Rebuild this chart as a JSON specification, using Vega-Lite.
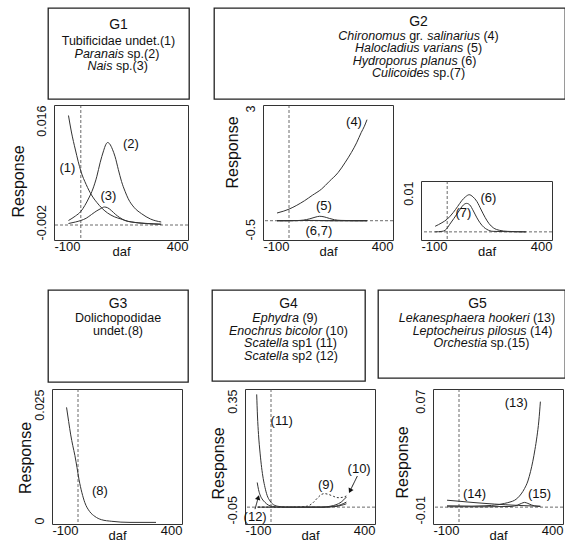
{
"$schema":"https://vega.github.io/schema/vega-lite/v6.json",
"background":"white",
"padding":{"left":0,"top":7,"right":0,"bottom":0},
"config":{
 "font":"Liberation Sans",
 "view":{"stroke":null},
 "axis":{"grid":false,"domain":false,"ticks":false,"labelFont":"Liberation Sans","labelColor":"#111","titleFont":"Liberation Sans","titleFontWeight":"normal","titleColor":"#111"},
 "text":{"font":"Liberation Sans","fontSize":13,"color":"#111","baseline":"middle"},
 "line":{"color":"#333","strokeWidth":1,"interpolate":"monotone"},
 "rule":{"color":"#444","strokeWidth":0.8,"strokeDash":[3,2]}
},
"spacing":0,
"bounds":"full",
"datasets":{
 "b1":[{"line":0,"it":"","rom":"G1"},{"line":1,"it":"","rom":"Tubificidae undet.(1)"},{"line":2,"it":"Paranais","rom":"sp.(2)"},{"line":3,"it":"Nais","rom":"sp.(3)"}],
 "b2":[{"line":0,"it":"","rom":"G2"},{"line":1,"it":"Chironomus","rom":"gr.","it2":"salinarius","rom2":"(4)"},{"line":2,"it":"Halocladius varians","rom":"(5)"},{"line":3,"it":"Hydroporus planus","rom":"(6)"},{"line":4,"it":"Culicoides","rom":"sp.(7)"}],
 "b3":[{"line":0,"it":"","rom":"G3"},{"line":1,"it":"","rom":"Dolichopodidae"},{"line":2,"it":"","rom":"undet.(8)"}],
 "b4":[{"line":0,"it":"","rom":"G4"},{"line":1,"it":"Ephydra","rom":"(9)"},{"line":2,"it":"Enochrus bicolor","rom":"(10)"},{"line":3,"it":"Scatella","rom":"sp1 (11)"},{"line":4,"it":"Scatella","rom":"sp2 (12)"}],
 "b5":[{"line":0,"it":"","rom":"G5"},{"line":1,"it":"Lekanesphaera hookeri","rom":"(13)"},{"line":2,"it":"Leptocheirus pilosus","rom":"(14)"},{"line":3,"it":"Orchestia","rom":"sp.(15)"}],
 "g1":[
  {"sp":"1","daf":-46,"r":0.0146},{"sp":"1","daf":-35,"r":0.0124},{"sp":"1","daf":-20,"r":0.0100},{"sp":"1","daf":0,"r":0.0072},{"sp":"1","daf":20,"r":0.0054},{"sp":"1","daf":40,"r":0.0040},{"sp":"1","daf":60,"r":0.0030},{"sp":"1","daf":80,"r":0.0022},{"sp":"1","daf":100,"r":0.0016},{"sp":"1","daf":125,"r":0.0011},{"sp":"1","daf":150,"r":0.0008},{"sp":"1","daf":175,"r":0.0005},{"sp":"1","daf":200,"r":0.00035},{"sp":"1","daf":250,"r":0.0002},{"sp":"1","daf":300,"r":0.0001},
  {"sp":"2","daf":-46,"r":0.0006},{"sp":"2","daf":-20,"r":0.0012},{"sp":"2","daf":0,"r":0.0018},{"sp":"2","daf":15,"r":0.0026},{"sp":"2","daf":30,"r":0.0036},{"sp":"2","daf":45,"r":0.0048},{"sp":"2","daf":60,"r":0.0065},{"sp":"2","daf":72,"r":0.0083},{"sp":"2","daf":85,"r":0.0099},{"sp":"2","daf":93,"r":0.0107},{"sp":"2","daf":100,"r":0.0110},{"sp":"2","daf":108,"r":0.0108},{"sp":"2","daf":118,"r":0.0101},{"sp":"2","daf":128,"r":0.0091},{"sp":"2","daf":140,"r":0.0074},{"sp":"2","daf":152,"r":0.0058},{"sp":"2","daf":165,"r":0.0045},{"sp":"2","daf":177,"r":0.0035},{"sp":"2","daf":200,"r":0.0023},{"sp":"2","daf":227,"r":0.0015},{"sp":"2","daf":260,"r":0.0008},{"sp":"2","daf":300,"r":0.0004},
  {"sp":"3","daf":-46,"r":0.0002},{"sp":"3","daf":-20,"r":0.0004},{"sp":"3","daf":0,"r":0.0006},{"sp":"3","daf":20,"r":0.0009},{"sp":"3","daf":40,"r":0.0014},{"sp":"3","daf":60,"r":0.0019},{"sp":"3","daf":75,"r":0.0022},{"sp":"3","daf":88,"r":0.0024},{"sp":"3","daf":100,"r":0.0023},{"sp":"3","daf":115,"r":0.0019},{"sp":"3","daf":130,"r":0.0014},{"sp":"3","daf":145,"r":0.0010},{"sp":"3","daf":165,"r":0.0006},{"sp":"3","daf":190,"r":0.0004},{"sp":"3","daf":240,"r":0.0002},{"sp":"3","daf":300,"r":0.0001}
 ],
 "l1":[{"t":"(1)","daf":-50,"r":0.0076},{"t":"(2)","daf":187,"r":0.0108},{"t":"(3)","daf":103,"r":0.0039}],
 "g2":[
  {"sp":"4","daf":-46,"r":0.20},{"sp":"4","daf":-20,"r":0.25},{"sp":"4","daf":0,"r":0.30},{"sp":"4","daf":30,"r":0.40},{"sp":"4","daf":60,"r":0.52},{"sp":"4","daf":90,"r":0.66},{"sp":"4","daf":125,"r":0.82},{"sp":"4","daf":155,"r":1.02},{"sp":"4","daf":189,"r":1.25},{"sp":"4","daf":215,"r":1.50},{"sp":"4","daf":240,"r":1.77},{"sp":"4","daf":260,"r":2.02},{"sp":"4","daf":278,"r":2.29},{"sp":"4","daf":290,"r":2.45},{"sp":"4","daf":300,"r":2.62},
  {"sp":"5","daf":-46,"r":0},{"sp":"5","daf":0,"r":0.001},{"sp":"5","daf":30,"r":0.004},{"sp":"5","daf":55,"r":0.015},{"sp":"5","daf":80,"r":0.05},{"sp":"5","daf":100,"r":0.09},{"sp":"5","daf":118,"r":0.115},{"sp":"5","daf":135,"r":0.10},{"sp":"5","daf":155,"r":0.06},{"sp":"5","daf":175,"r":0.025},{"sp":"5","daf":200,"r":0.008},{"sp":"5","daf":250,"r":0.001},{"sp":"5","daf":300,"r":0},
  {"sp":"6","daf":-46,"r":0.0011},{"sp":"6","daf":-20,"r":0.0018},{"sp":"6","daf":0,"r":0.0025},{"sp":"6","daf":23,"r":0.0038},{"sp":"6","daf":40,"r":0.0050},{"sp":"6","daf":55,"r":0.0061},{"sp":"6","daf":70,"r":0.0069},{"sp":"6","daf":84,"r":0.0073},{"sp":"6","daf":98,"r":0.0069},{"sp":"6","daf":113,"r":0.0060},{"sp":"6","daf":130,"r":0.0043},{"sp":"6","daf":145,"r":0.0028},{"sp":"6","daf":160,"r":0.0016},{"sp":"6","daf":176,"r":0.0008},{"sp":"6","daf":200,"r":0.0003},{"sp":"6","daf":230,"r":0.0001},{"sp":"6","daf":300,"r":0},
  {"sp":"7","daf":-46,"r":0},{"sp":"7","daf":-20,"r":0.0001},{"sp":"7","daf":-8,"r":0.0003},{"sp":"7","daf":10,"r":0.0015},{"sp":"7","daf":25,"r":0.0026},{"sp":"7","daf":37,"r":0.0035},{"sp":"7","daf":50,"r":0.0045},{"sp":"7","daf":62,"r":0.0053},{"sp":"7","daf":74,"r":0.0056},{"sp":"7","daf":86,"r":0.0053},{"sp":"7","daf":100,"r":0.0041},{"sp":"7","daf":112,"r":0.0029},{"sp":"7","daf":125,"r":0.0018},{"sp":"7","daf":140,"r":0.0009},{"sp":"7","daf":151,"r":0.0005},{"sp":"7","daf":175,"r":0.0001},{"sp":"7","daf":300,"r":0}
 ],
 "l2a":[{"t":"(4)","daf":250,"r":2.55},{"t":"(5)","daf":134,"r":0.39},{"t":"(6,7)","daf":115,"r":-0.26}],
 "l2b":[{"t":"(6)","daf":157,"r":0.0067},{"t":"(7)","daf":62,"r":0.0038}],
 "g3":[
  {"sp":"8","daf":-44,"r":0.0216},{"sp":"8","daf":-36,"r":0.0190},{"sp":"8","daf":-28,"r":0.0165},{"sp":"8","daf":-20,"r":0.0145},{"sp":"8","daf":-12,"r":0.0127},{"sp":"8","daf":-4,"r":0.0105},{"sp":"8","daf":4,"r":0.0082},{"sp":"8","daf":15,"r":0.0058},{"sp":"8","daf":26,"r":0.0040},{"sp":"8","daf":45,"r":0.0023},{"sp":"8","daf":65,"r":0.0014},{"sp":"8","daf":90,"r":0.0008},{"sp":"8","daf":130,"r":0.0005},{"sp":"8","daf":200,"r":0.0003},{"sp":"8","daf":300,"r":0.0003}
 ],
 "l3":[{"t":"(8)","daf":84,"r":0.0062}],
 "g4":[
  {"sp":"11","daf":-55,"r":0.334},{"sp":"11","daf":-52,"r":0.27},{"sp":"11","daf":-48,"r":0.215},{"sp":"11","daf":-42,"r":0.16},{"sp":"11","daf":-36,"r":0.117},{"sp":"11","daf":-30,"r":0.085},{"sp":"11","daf":-23,"r":0.058},{"sp":"11","daf":-15,"r":0.035},{"sp":"11","daf":-4,"r":0.0185},{"sp":"11","daf":10,"r":0.007},{"sp":"11","daf":30,"r":0.002},{"sp":"11","daf":60,"r":0},{"sp":"11","daf":200,"r":0},{"sp":"11","daf":250,"r":0.002},{"sp":"11","daf":290,"r":0.01},
  {"sp":"12","daf":-53,"r":0.073},{"sp":"12","daf":-48,"r":0.052},{"sp":"12","daf":-42,"r":0.036},{"sp":"12","daf":-34,"r":0.024},{"sp":"12","daf":-23,"r":0.014},{"sp":"12","daf":-10,"r":0.006},{"sp":"12","daf":6,"r":0.002},{"sp":"12","daf":30,"r":0},{"sp":"12","daf":200,"r":0},{"sp":"12","daf":250,"r":0.003},{"sp":"12","daf":290,"r":0.015},
  {"sp":"10","daf":-50,"r":0},{"sp":"10","daf":200,"r":0},{"sp":"10","daf":230,"r":0.003},{"sp":"10","daf":250,"r":0.007},{"sp":"10","daf":270,"r":0.015},{"sp":"10","daf":290,"r":0.03},
  {"sp":"9","daf":-50,"r":0},{"sp":"9","daf":100,"r":0},{"sp":"9","daf":140,"r":0.003},{"sp":"9","daf":160,"r":0.012},{"sp":"9","daf":180,"r":0.028},{"sp":"9","daf":195,"r":0.038},{"sp":"9","daf":205,"r":0.040},{"sp":"9","daf":220,"r":0.038},{"sp":"9","daf":240,"r":0.032},{"sp":"9","daf":258,"r":0.028},{"sp":"9","daf":275,"r":0.029},{"sp":"9","daf":290,"r":0.033}
 ],
 "l4":[{"t":"(11)","daf":41,"r":0.256},{"t":"(9)","daf":211,"r":0.067},{"t":"(10)","daf":339,"r":0.112},{"t":"(12)","daf":-61,"r":-0.028}],
 "a4":[{"id":"10","daf":332,"r":0.092,"daf2":304,"r2":0.048},{"id":"12","daf":-61.5,"r":-0.006,"daf2":-49,"r2":0.0285}],
 "g5":[
  {"sp":"13","daf":-46,"r":0.0008},{"sp":"13","daf":50,"r":0.0006},{"sp":"13","daf":100,"r":0.0008},{"sp":"13","daf":150,"r":0.0014},{"sp":"13","daf":175,"r":0.0022},{"sp":"13","daf":200,"r":0.0032},{"sp":"13","daf":213,"r":0.0040},{"sp":"13","daf":226,"r":0.0055},{"sp":"13","daf":239,"r":0.0078},{"sp":"13","daf":252,"r":0.011},{"sp":"13","daf":265,"r":0.0155},{"sp":"13","daf":275,"r":0.021},{"sp":"13","daf":284,"r":0.0272},{"sp":"13","daf":292,"r":0.034},{"sp":"13","daf":300,"r":0.042},{"sp":"13","daf":307,"r":0.051},{"sp":"13","daf":313,"r":0.0625},
  {"sp":"14","daf":-46,"r":0.0041},{"sp":"14","daf":0,"r":0.0035},{"sp":"14","daf":50,"r":0.0028},{"sp":"14","daf":100,"r":0.0022},{"sp":"14","daf":137,"r":0.0018},{"sp":"14","daf":180,"r":0.0014},{"sp":"14","daf":230,"r":0.0010},{"sp":"14","daf":280,"r":0.0007},{"sp":"14","daf":313,"r":0.0006},
  {"sp":"15","daf":-46,"r":0.0002},{"sp":"15","daf":100,"r":0.0002},{"sp":"15","daf":200,"r":0.0004},{"sp":"15","daf":225,"r":0.0012},{"sp":"15","daf":240,"r":0.0022},{"sp":"15","daf":252,"r":0.0028},{"sp":"15","daf":265,"r":0.0022},{"sp":"15","daf":280,"r":0.0012},{"sp":"15","daf":300,"r":0.0005},{"sp":"15","daf":313,"r":0.0003}
 ],
 "l5":[{"t":"(13)","daf":220,"r":0.062},{"t":"(14)","daf":60,"r":0.0075},{"t":"(15)","daf":310,"r":0.0075}]
},
"vconcat":[
 {"hconcat":[
   {"width":48,"height":91,"data":{"values":[]},"mark":"point","encoding":{}},
   {"width":141,"height":91,"view":{"stroke":"#222","strokeWidth":1.3},"data":{"name":"b1"},
    "encoding":{"y":{"field":"line","type":"quantitative","scale":{"domain":[-1.664,5.616],"reverse":true,"nice":false,"zero":false},"axis":null}},
    "layer":[
     {"transform":[{"filter":"datum.line == 0"}],"mark":{"type":"text","fontSize":14,"dy":-4},"encoding":{"text":{"field":"rom"}}},
     {"transform":[{"filter":"datum.line > 0"}],"mark":{"type":"text","fontSize":12.5,"fontStyle":"italic","align":"right","dx":{"expr":"(length(datum.it)*5.74 - (datum.rom ? 3.47 : 0) - length(datum.rom)*5.28)/2"}},"encoding":{"text":{"field":"it"}}},
     {"transform":[{"filter":"datum.line > 0"}],"mark":{"type":"text","fontSize":12.5,"align":{"expr":"datum.it ? 'left' : 'center'"},"dx":{"expr":"datum.it ? (length(datum.it)*5.74 + 3.47 - length(datum.rom)*5.28)/2 : 0"}},"encoding":{"text":{"field":"rom"}}}
    ]},
   {"width":25,"height":91,"data":{"values":[]},"mark":"point","encoding":{}},
   {"width":351,"height":91,"view":{"stroke":"#222","strokeWidth":1.3},"data":{"name":"b2"},
    "encoding":{"y":{"field":"line","type":"quantitative","scale":{"domain":[-1.219,6.032],"reverse":true,"nice":false,"zero":false},"axis":null}},
    "layer":[
     {"transform":[{"filter":"datum.line == 0"}],"mark":{"type":"text","fontSize":14,"dx":29,"dy":-1},"encoding":{"text":{"field":"rom"}}},
     {"transform":[{"filter":"datum.line == 1"}],"mark":{"type":"text","fontSize":12.5,"fontStyle":"italic","align":"right","dx":16.2},"encoding":{"text":{"field":"it"}}},
     {"transform":[{"filter":"datum.line == 1"}],"mark":{"type":"text","fontSize":12.5,"align":"left","dx":19.65},"encoding":{"text":{"field":"rom"}}},
     {"transform":[{"filter":"datum.line == 1"}],"mark":{"type":"text","fontSize":12.5,"fontStyle":"italic","align":"left","dx":37.7},"encoding":{"text":{"field":"it2"}}},
     {"transform":[{"filter":"datum.line == 1"}],"mark":{"type":"text","fontSize":12.5,"align":"left","dx":93.95},"encoding":{"text":{"field":"rom2"}}},
     {"transform":[{"filter":"datum.line > 1"}],"mark":{"type":"text","fontSize":12.5,"fontStyle":"italic","align":"right","dx":{"expr":"(length(datum.it)*5.74 - (datum.rom ? 3.47 : 0) - length(datum.rom)*5.28)/2 + 29"}},"encoding":{"text":{"field":"it"}}},
     {"transform":[{"filter":"datum.line > 1"}],"mark":{"type":"text","fontSize":12.5,"align":{"expr":"datum.it ? 'left' : 'center'"},"dx":{"expr":"datum.it ? (length(datum.it)*5.74 + 3.47 - length(datum.rom)*5.28)/2 + 29 : 29"}},"encoding":{"text":{"field":"rom"}}}
    ]}
  ],"spacing":0,"bounds":"flush"},
 {"width":1,"height":4,"data":{"values":[]},"mark":"point","encoding":{}},
 {"hconcat":[
   {"width":54,"height":135,"data":{"values":[]},"mark":"point","encoding":{}},
   {"width":134,"height":135,"view":{"stroke":"#333"},
    "layer":[
     {"data":{"values":[{}]},"mark":"rule","encoding":{"x":{"datum":0,"type":"quantitative","scale":{"domain":[-100,400],"nice":false,"zero":false}}}},
     {"data":{"values":[{}]},"mark":"rule","encoding":{"y":{"datum":0,"type":"quantitative","scale":{"domain":[-0.002,0.016],"nice":false,"zero":false}}}},
     {"data":{"name":"g1"},"mark":"line","encoding":{
       "x":{"field":"daf","type":"quantitative","scale":{"domain":[-100,400],"nice":false,"zero":false},"axis":{"values":[-100,400],"labelExpr":"datum.value < 0 ? '-' + format(-datum.value, '~g') : format(datum.value, '~g')","labelFlush":true,"labelPadding":0,"labelFontSize":13,"title":"daf","titleFontSize":13,"titleY":15,"titleBaseline":"alphabetic"}},
       "y":{"field":"r","type":"quantitative","scale":{"domain":[-0.002,0.016],"nice":false,"zero":false},"axis":{"values":[-0.002,0.016],"labelExpr":"datum.value < 0 ? '-' + format(-datum.value, '~g') : format(datum.value, '~g')","labelFlush":false,"labelAngle":270,"labelAlign":{"condition":{"test":"datum.value <= 0","value":"left"},"value":"right"},"labelBaseline":"bottom","labelPadding":6,"labelFontSize":12.5,"title":"Response","titleFontSize":16,"titleAngle":270,"titleAlign":"center","titleBaseline":"middle","titleX":-36,"titleY":76}},
       "detail":{"field":"sp","type":"nominal"}}},
     {"data":{"name":"l1"},"mark":"text","encoding":{"x":{"field":"daf","type":"quantitative","scale":{"domain":[-100,400],"nice":false,"zero":false}},"y":{"field":"r","type":"quantitative","scale":{"domain":[-0.002,0.016],"nice":false,"zero":false}},"text":{"field":"t"}}}
    ]},
   {"width":75,"height":135,"data":{"values":[]},"mark":"point","encoding":{}},
   {"width":130,"height":135,"view":{"stroke":"#333"},
    "layer":[
     {"data":{"values":[{}]},"mark":"rule","encoding":{"x":{"datum":0,"type":"quantitative","scale":{"domain":[-100,400],"nice":false,"zero":false}}}},
     {"data":{"values":[{}]},"mark":"rule","encoding":{"y":{"datum":0,"type":"quantitative","scale":{"domain":[-0.5,3],"nice":false,"zero":false}}}},
     {"data":{"name":"g2"},"mark":"line","encoding":{
       "x":{"field":"daf","type":"quantitative","scale":{"domain":[-100,400],"nice":false,"zero":false},"axis":{"values":[-100,400],"labelExpr":"datum.value < 0 ? '-' + format(-datum.value, '~g') : format(datum.value, '~g')","labelFlush":true,"labelPadding":0,"labelFontSize":13,"title":"daf","titleFontSize":13,"titleY":15,"titleBaseline":"alphabetic"}},
       "y":{"field":"r","type":"quantitative","scale":{"domain":[-0.5,3],"nice":false,"zero":false},"axis":{"values":[-0.5,3],"labelExpr":"datum.value < 0 ? '-' + format(-datum.value, '~g') : format(datum.value, '~g')","labelFlush":false,"labelAngle":270,"labelAlign":{"condition":{"test":"datum.value <= 0","value":"left"},"value":"right"},"labelBaseline":"bottom","labelPadding":6,"labelFontSize":12.5,"title":"Response","titleFontSize":16,"titleAngle":270,"titleAlign":"center","titleBaseline":"middle","titleX":-30.5,"titleY":47}},
       "detail":{"field":"sp","type":"nominal"}}},
     {"data":{"name":"l2a"},"mark":"text","encoding":{"x":{"field":"daf","type":"quantitative","scale":{"domain":[-100,400],"nice":false,"zero":false}},"y":{"field":"r","type":"quantitative","scale":{"domain":[-0.5,3],"nice":false,"zero":false}},"text":{"field":"t"}}}
    ]},
   {"width":28,"height":135,"data":{"values":[]},"mark":"point","encoding":{}},
   {"vconcat":[
     {"width":131,"height":76,"data":{"values":[]},"mark":"point","encoding":{}},
     {"width":131,"height":59,"view":{"stroke":"#333"},
      "layer":[
       {"data":{"values":[{}]},"mark":"rule","encoding":{"x":{"datum":0,"type":"quantitative","scale":{"domain":[-100,400],"nice":false,"zero":false}}}},
       {"data":{"values":[{}]},"mark":"rule","encoding":{"y":{"datum":0,"type":"quantitative","scale":{"domain":[-0.0016,0.01],"nice":false,"zero":false}}}},
       {"data":{"name":"g2"},"transform":[{"filter":"datum.sp == '6' || datum.sp == '7'"}],"mark":"line","encoding":{
         "x":{"field":"daf","type":"quantitative","scale":{"domain":[-100,400],"nice":false,"zero":false},"axis":{"values":[-100,400],"labelExpr":"datum.value < 0 ? '-' + format(-datum.value, '~g') : format(datum.value, '~g')","labelFlush":true,"labelPadding":0,"labelFontSize":13,"title":"daf","titleFontSize":13,"titleY":15,"titleBaseline":"alphabetic"}},
         "y":{"field":"r","type":"quantitative","scale":{"domain":[-0.0016,0.01],"nice":false,"zero":false},"axis":{"values":[0.01],"labelExpr":"format(datum.value, '~g')","labelFlush":false,"labelAngle":270,"labelAlign":"right","labelBaseline":"bottom","labelPadding":6,"labelFontSize":12.5,"title":null}},
         "detail":{"field":"sp","type":"nominal"}}},
       {"data":{"name":"l2b"},"mark":"text","encoding":{"x":{"field":"daf","type":"quantitative","scale":{"domain":[-100,400],"nice":false,"zero":false}},"y":{"field":"r","type":"quantitative","scale":{"domain":[-0.0016,0.01],"nice":false,"zero":false}},"text":{"field":"t"}}}
      ]}
    ],"spacing":0,"bounds":"flush"}
  ],"spacing":0,"bounds":"flush"},
 {"width":1,"height":30,"data":{"values":[]},"mark":"point","encoding":{}},
 {"hconcat":[
   {"width":48,"height":92,"data":{"values":[]},"mark":"point","encoding":{}},
   {"width":140,"height":92,"view":{"stroke":"#222","strokeWidth":1.3},"data":{"name":"b3"},
    "encoding":{"y":{"field":"line","type":"quantitative","scale":{"domain":[-1.197,6.047],"reverse":true,"nice":false,"zero":false},"axis":null}},
    "layer":[
     {"transform":[{"filter":"datum.line == 0"}],"mark":{"type":"text","fontSize":14,"dy":-1},"encoding":{"text":{"field":"rom"}}},
     {"transform":[{"filter":"datum.line > 0"}],"mark":{"type":"text","fontSize":12.5},"encoding":{"text":{"field":"rom"}}}
    ]},
   {"width":24,"height":91,"data":{"values":[]},"mark":"point","encoding":{}},
   {"width":153,"height":91,"view":{"stroke":"#222","strokeWidth":1.3},"data":{"name":"b4"},
    "encoding":{"y":{"field":"line","type":"quantitative","scale":{"domain":[-1.197,5.969],"reverse":true,"nice":false,"zero":false},"axis":null}},
    "layer":[
     {"transform":[{"filter":"datum.line == 0"}],"mark":{"type":"text","fontSize":14,"dy":-1},"encoding":{"text":{"field":"rom"}}},
     {"transform":[{"filter":"datum.line > 0"}],"mark":{"type":"text","fontSize":12.5,"fontStyle":"italic","align":"right","dx":{"expr":"(length(datum.it)*5.74 - (datum.rom ? 3.47 : 0) - length(datum.rom)*5.28)/2"}},"encoding":{"text":{"field":"it"}}},
     {"transform":[{"filter":"datum.line > 0"}],"mark":{"type":"text","fontSize":12.5,"align":{"expr":"datum.it ? 'left' : 'center'"},"dx":{"expr":"datum.it ? (length(datum.it)*5.74 + 3.47 - length(datum.rom)*5.28)/2 : 0"}},"encoding":{"text":{"field":"rom"}}}
    ]},
   {"width":13,"height":88,"data":{"values":[]},"mark":"point","encoding":{}},
   {"width":187,"height":88,"view":{"stroke":"#222","strokeWidth":1.3},"data":{"name":"b5"},
    "encoding":{"y":{"field":"line","type":"quantitative","scale":{"domain":[-1.197,5.732],"reverse":true,"nice":false,"zero":false},"axis":null}},
    "layer":[
     {"transform":[{"filter":"datum.line == 0"}],"mark":{"type":"text","fontSize":14,"dx":6,"dy":-1},"encoding":{"text":{"field":"rom"}}},
     {"transform":[{"filter":"datum.line > 0"}],"mark":{"type":"text","fontSize":12.5,"fontStyle":"italic","align":"right","dx":{"expr":"(length(datum.it)*5.74 - (datum.rom ? 3.47 : 0) - length(datum.rom)*5.28)/2 + 10"}},"encoding":{"text":{"field":"it"}}},
     {"transform":[{"filter":"datum.line > 0"}],"mark":{"type":"text","fontSize":12.5,"align":{"expr":"datum.it ? 'left' : 'center'"},"dx":{"expr":"datum.it ? (length(datum.it)*5.74 + 3.47 - length(datum.rom)*5.28)/2 + 10 : 10"}},"encoding":{"text":{"field":"rom"}}}
    ]}
  ],"spacing":0,"bounds":"flush"},
 {"width":1,"height":5,"data":{"values":[]},"mark":"point","encoding":{}},
 {"hconcat":[
   {"width":52,"height":135,"data":{"values":[]},"mark":"point","encoding":{}},
   {"width":130,"height":135,"view":{"stroke":"#333"},
    "layer":[
     {"data":{"values":[{}]},"mark":"rule","encoding":{"x":{"datum":0,"type":"quantitative","scale":{"domain":[-100,400],"nice":false,"zero":false}}}},
     {"data":{"name":"g3"},"mark":"line","encoding":{
       "x":{"field":"daf","type":"quantitative","scale":{"domain":[-100,400],"nice":false,"zero":false},"axis":{"values":[-100,400],"labelExpr":"datum.value < 0 ? '-' + format(-datum.value, '~g') : format(datum.value, '~g')","labelFlush":true,"labelPadding":0,"labelFontSize":13,"title":"daf","titleFontSize":13,"titleY":15,"titleBaseline":"alphabetic"}},
       "y":{"field":"r","type":"quantitative","scale":{"domain":[0,0.025],"nice":false,"zero":false},"axis":{"values":[0,0.025],"labelExpr":"format(datum.value, '~g')","labelFlush":false,"labelAngle":270,"labelAlign":{"condition":{"test":"datum.value <= 0","value":"left"},"value":"right"},"labelBaseline":"bottom","labelPadding":6,"labelFontSize":12.5,"title":"Response","titleFontSize":16,"titleAngle":270,"titleAlign":"center","titleBaseline":"middle","titleX":-26.5,"titleY":68.5}},
       "detail":{"field":"sp","type":"nominal"}}},
     {"data":{"name":"l3"},"mark":"text","encoding":{"x":{"field":"daf","type":"quantitative","scale":{"domain":[-100,400],"nice":false,"zero":false}},"y":{"field":"r","type":"quantitative","scale":{"domain":[0,0.025],"nice":false,"zero":false}},"text":{"field":"t"}}}
    ]},
   {"width":63,"height":135,"data":{"values":[]},"mark":"point","encoding":{}},
   {"width":130,"height":135,"view":{"stroke":"#333"},
    "layer":[
     {"data":{"values":[{}]},"mark":"rule","encoding":{"x":{"datum":0,"type":"quantitative","scale":{"domain":[-100,400],"nice":false,"zero":false}}}},
     {"data":{"values":[{}]},"mark":"rule","encoding":{"y":{"datum":0,"type":"quantitative","scale":{"domain":[-0.05,0.35],"nice":false,"zero":false}}}},
     {"data":{"name":"g4"},"transform":[{"filter":"datum.sp != '9'"}],"mark":"line","encoding":{
       "x":{"field":"daf","type":"quantitative","scale":{"domain":[-100,400],"nice":false,"zero":false},"axis":{"values":[-100,400],"labelExpr":"datum.value < 0 ? '-' + format(-datum.value, '~g') : format(datum.value, '~g')","labelFlush":true,"labelPadding":0,"labelFontSize":13,"title":"daf","titleFontSize":13,"titleY":15,"titleBaseline":"alphabetic"}},
       "y":{"field":"r","type":"quantitative","scale":{"domain":[-0.05,0.35],"nice":false,"zero":false},"axis":{"values":[-0.05,0.35],"labelExpr":"datum.value < 0 ? '-' + format(-datum.value, '~g') : format(datum.value, '~g')","labelFlush":false,"labelAngle":270,"labelAlign":{"condition":{"test":"datum.value <= 0","value":"left"},"value":"right"},"labelBaseline":"bottom","labelPadding":6,"labelFontSize":12.5,"title":"Response","titleFontSize":16,"titleAngle":270,"titleAlign":"center","titleBaseline":"middle","titleX":-26.7,"titleY":74}},
       "detail":{"field":"sp","type":"nominal"}}},
     {"data":{"name":"g4"},"transform":[{"filter":"datum.sp == '9'"}],"mark":{"type":"line","strokeDash":[2,2]},"encoding":{
       "x":{"field":"daf","type":"quantitative","scale":{"domain":[-100,400],"nice":false,"zero":false}},
       "y":{"field":"r","type":"quantitative","scale":{"domain":[-0.05,0.35],"nice":false,"zero":false}}}},
     {"data":{"name":"a4"},"mark":{"type":"rule","strokeDash":[1,0],"color":"#111","strokeWidth":1},"encoding":{
       "x":{"field":"daf","type":"quantitative","scale":{"domain":[-100,400],"nice":false,"zero":false}},
       "y":{"field":"r","type":"quantitative","scale":{"domain":[-0.05,0.35],"nice":false,"zero":false}},
       "x2":{"field":"daf2"},"y2":{"field":"r2"}}},
     {"data":{"name":"a4"},"transform":[{"filter":"datum.id == '10'"}],"mark":{"type":"point","shape":"triangle-up","filled":true,"size":30,"angle":206,"color":"#111","opacity":1},"encoding":{
       "x":{"field":"daf2","type":"quantitative","scale":{"domain":[-100,400],"nice":false,"zero":false}},
       "y":{"field":"r2","type":"quantitative","scale":{"domain":[-0.05,0.35],"nice":false,"zero":false}}}},
     {"data":{"name":"a4"},"transform":[{"filter":"datum.id == '12'"}],"mark":{"type":"point","shape":"triangle-up","filled":true,"size":30,"angle":16,"color":"#111","opacity":1},"encoding":{
       "x":{"field":"daf2","type":"quantitative","scale":{"domain":[-100,400],"nice":false,"zero":false}},
       "y":{"field":"r2","type":"quantitative","scale":{"domain":[-0.05,0.35],"nice":false,"zero":false}}}},
     {"data":{"name":"l4"},"mark":"text","encoding":{"x":{"field":"daf","type":"quantitative","scale":{"domain":[-100,400],"nice":false,"zero":false}},"y":{"field":"r","type":"quantitative","scale":{"domain":[-0.05,0.35],"nice":false,"zero":false}},"text":{"field":"t"}}}
    ]},
   {"width":58,"height":135,"data":{"values":[]},"mark":"point","encoding":{}},
   {"width":130,"height":135,"view":{"stroke":"#333"},
    "layer":[
     {"data":{"values":[{}]},"mark":"rule","encoding":{"x":{"datum":0,"type":"quantitative","scale":{"domain":[-100,400],"nice":false,"zero":false}}}},
     {"data":{"values":[{}]},"mark":"rule","encoding":{"y":{"datum":0,"type":"quantitative","scale":{"domain":[-0.01,0.07],"nice":false,"zero":false}}}},
     {"data":{"name":"g5"},"mark":"line","encoding":{
       "x":{"field":"daf","type":"quantitative","scale":{"domain":[-100,400],"nice":false,"zero":false},"axis":{"values":[-100,400],"labelExpr":"datum.value < 0 ? '-' + format(-datum.value, '~g') : format(datum.value, '~g')","labelFlush":true,"labelPadding":0,"labelFontSize":13,"title":"daf","titleFontSize":13,"titleY":15,"titleBaseline":"alphabetic"}},
       "y":{"field":"r","type":"quantitative","scale":{"domain":[-0.01,0.07],"nice":false,"zero":false},"axis":{"values":[-0.01,0.07],"labelExpr":"datum.value < 0 ? '-' + format(-datum.value, '~g') : format(datum.value, '~g')","labelFlush":false,"labelAngle":270,"labelAlign":{"condition":{"test":"datum.value <= 0","value":"left"},"value":"right"},"labelBaseline":"bottom","labelPadding":6,"labelFontSize":12.5,"title":"Response","titleFontSize":16,"titleAngle":270,"titleAlign":"center","titleBaseline":"middle","titleX":-30.5,"titleY":73}},
       "detail":{"field":"sp","type":"nominal"}}},
     {"data":{"name":"l5"},"mark":"text","encoding":{"x":{"field":"daf","type":"quantitative","scale":{"domain":[-100,400],"nice":false,"zero":false}},"y":{"field":"r","type":"quantitative","scale":{"domain":[-0.01,0.07],"nice":false,"zero":false}},"text":{"field":"t"}}}
    ]}
  ],"spacing":0,"bounds":"flush"}
]
}
